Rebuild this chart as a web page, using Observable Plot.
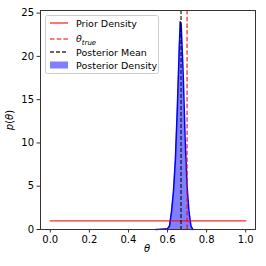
<!DOCTYPE html>
<html><head><meta charset="utf-8">
<script src="https://cdn.jsdelivr.net/npm/d3@7"></script>
<script src="https://cdn.jsdelivr.net/npm/@observablehq/plot@0.6"></script>
<style>
html,body{margin:0;padding:0;background:#fff;}
svg{font-family:"DejaVu Sans",sans-serif;}
</style></head>
<body><div id="chart"></div>
<script>
// Posterior density
const theta = [0.54, 0.56, 0.58, 0.60, 0.61, 0.62, 0.63, 0.64, 0.65, 0.66, 0.665, 0.67, 0.68, 0.69, 0.70, 0.71, 0.72, 0.73];
const posterior = [0, 0.02, 0.05, 0.1, 0.4, 2.0, 4.3, 8.0, 14.0, 21.0, 24.0, 23.5, 18.0, 10.5, 5.0, 2.0, 0.4, 0];
const priorX = [0, 1];
const priorY = [1, 1];
const thetaTrue = 0.70;
const posteriorMean = 0.669;
const xTicks = [0, 0.2, 0.4, 0.6, 0.8, 1.0];
const yTicks = [0, 5, 10, 15, 20, 25];
const legendLabels = ["Prior Density", "θtrue", "Posterior Mean", "Posterior Density"];

const post = theta.map((t, i) => ({t, p: posterior[i]}));
const prior = priorX.map((x, i) => ({x, y: priorY[i]}));

const chart = Plot.plot({
  width: 266, height: 266,
  marginLeft: 40, marginRight: 11, marginTop: 10, marginBottom: 37,
  style: {fontFamily: "DejaVu Sans, sans-serif", fontSize: "10px", color: "#000", background: "#fff"},
  x: {domain: [-0.05, 1.05], ticks: xTicks, tickFormat: d3.format(".1f"), tickSize: 3.5, label: null},
  y: {domain: [0, 25.3], ticks: yTicks, tickSize: 3.5, label: null},
  marks: [
    Plot.areaY(post, {x: "t", y: "p", fill: "blue", fillOpacity: 0.5}),
    Plot.line(post, {x: "t", y: "p", stroke: "blue", strokeWidth: 1.5}),
    Plot.line(prior, {x: "x", y: "y", stroke: "red", strokeOpacity: 0.85, strokeWidth: 1.3}),
    Plot.ruleX([thetaTrue], {stroke: "red", strokeOpacity: 0.7, strokeWidth: 1.5, strokeDasharray: "4.5,2.2"}),
    Plot.ruleX([posteriorMean], {stroke: "black", strokeOpacity: 0.8, strokeWidth: 1.3, strokeDasharray: "4,2"}),
    Plot.frame({stroke: "#333", strokeWidth: 1}),
    Plot.axisX({ticks: xTicks, tickFormat: d3.format(".1f"), tickSize: 3.5, tickPadding: 3, stroke: "#333", label: null}),
    Plot.axisY({ticks: yTicks, tickSize: 3.5, tickPadding: 3, stroke: "#333", label: null})
  ]
});
document.getElementById("chart").appendChild(chart);

const svg = d3.select(chart);
// axis labels
svg.append("text").attr("x", 147).attr("y", 252).attr("text-anchor", "middle")
  .attr("font-size", 10).attr("font-style", "italic").text("θ");
const yl = svg.append("text").attr("transform", "translate(13,120) rotate(-90)")
  .attr("text-anchor", "middle").attr("font-size", 10);
yl.append("tspan").attr("font-style", "italic").text("p");
yl.append("tspan").text("(");
yl.append("tspan").attr("font-style", "italic").text("θ");
yl.append("tspan").text(")");

// legend
const lg = svg.append("g").attr("text-anchor", "start");
lg.append("rect").attr("x", 45.5).attr("y", 15.5).attr("width", 113).attr("height", 58)
  .attr("rx", 2).attr("fill", "#fff").attr("fill-opacity", 0.8).attr("stroke", "#ccc");
const rows = [23, 39, 52, 65];
lg.append("line").attr("x1", 50).attr("x2", 68).attr("y1", rows[0]).attr("y2", rows[0])
  .attr("stroke", "red").attr("stroke-opacity", 0.85).attr("stroke-width", 1.3);
lg.append("line").attr("x1", 50).attr("x2", 68).attr("y1", rows[1]).attr("y2", rows[1])
  .attr("stroke", "red").attr("stroke-opacity", 0.7).attr("stroke-width", 1.5).attr("stroke-dasharray", "4.5,2.2");
lg.append("line").attr("x1", 50).attr("x2", 68).attr("y1", rows[2]).attr("y2", rows[2])
  .attr("stroke", "black").attr("stroke-opacity", 0.8).attr("stroke-width", 1.3).attr("stroke-dasharray", "4,2");
lg.append("rect").attr("x", 50).attr("y", rows[3] - 3.5).attr("width", 18).attr("height", 7)
  .attr("fill", "blue").attr("fill-opacity", 0.5);
const tx = 76;
lg.append("text").attr("x", tx).attr("y", rows[0] + 3.5).attr("font-size", 9.5).text(legendLabels[0]);
const t2 = lg.append("text").attr("x", tx).attr("y", rows[1] + 3).attr("font-size", 9.5).attr("font-style", "italic");
t2.append("tspan").text(legendLabels[1].slice(0, 1));
t2.append("tspan").attr("dy", 2.5).attr("font-size", 7).text(legendLabels[1].slice(1));
lg.append("text").attr("x", tx).attr("y", rows[2] + 3.5).attr("font-size", 9.5).text(legendLabels[2]);
lg.append("text").attr("x", tx).attr("y", rows[3] + 3.5).attr("font-size", 9.5).text(legendLabels[3]);
</script>
</body></html>
